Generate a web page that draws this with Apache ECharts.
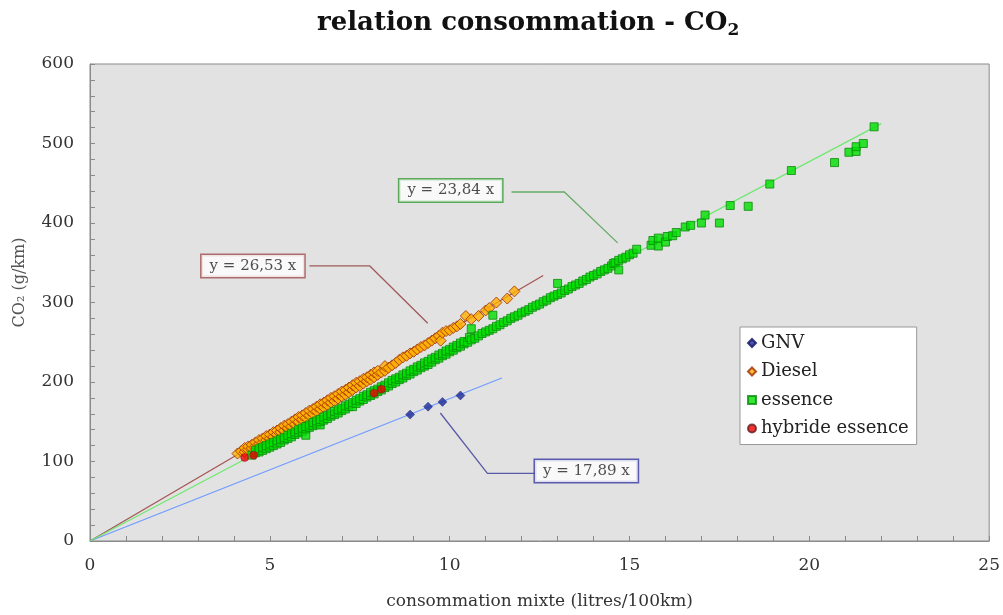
<!DOCTYPE html>
<html>
<head>
<meta charset="utf-8">
<script src="https://cdn.jsdelivr.net/npm/echarts@6/dist/echarts.min.js"></script>
<style>html,body{margin:0;padding:0;background:#fff;}#c{width:1003px;height:615px;}</style>
</head>
<body>
<div id="c"></div>
<script>
// ---- data ----
const xTicks = [0, 5, 10, 15, 20, 25];
const yTicks = [0, 100, 200, 300, 400, 500, 600];
const seriesNames = ['GNV', 'Diesel', 'essence', 'hybride essence'];

const gnv = [[8.9,159],[9.4,169],[9.8,175],[10.3,183]];

const hybride = [[4.3,105],[4.55,108],[7.9,186],[8.1,191]];

const diesel = [
[4.1,110],[4.2,113],[4.3,112],[4.3,117],[4.4,115],[4.4,119],[4.5,117],[4.5,121],[4.6,119],[4.6,124],
[4.7,122],[4.7,127],[4.8,124],[4.8,129],[4.9,127],[4.9,132],[5.0,129],[5.0,134],[5.1,131],[5.1,137],
[5.2,134],[5.2,139],[5.3,137],[5.3,142],[5.4,139],[5.4,145],[5.5,142],[5.5,147],[5.6,144],[5.6,150],
[5.7,147],[5.7,153],[5.8,150],[5.8,156],[5.9,153],[5.9,158],[6.0,155],[6.0,161],[6.1,158],[6.1,164],
[6.2,160],[6.2,166],[6.3,163],[6.3,169],[6.4,166],[6.4,172],[6.5,168],[6.5,174],[6.6,171],[6.6,177],
[6.7,174],[6.7,180],[6.8,176],[6.8,182],[6.9,179],[6.9,185],[7.0,182],[7.0,188],[7.1,184],[7.1,190],
[7.2,187],[7.2,193],[7.3,190],[7.3,196],[7.4,193],[7.4,199],[7.5,195],[7.5,201],[7.6,198],[7.6,204],
[7.7,201],[7.7,206],[7.8,203],[7.8,209],[7.9,206],[7.9,212],[8.0,209],[8.0,214],[8.1,212],[8.2,214],
[8.2,220],[8.3,218],[8.4,221],[8.5,224],[8.6,228],[8.7,231],[8.8,233],[8.9,236],[9.0,238],[9.1,241],
[9.2,244],[9.3,246],[9.4,249],[9.5,252],[9.6,255],[9.7,258],[9.75,252],[9.8,262],[9.9,264],[10.0,265],
[10.1,268],[10.2,270],[10.3,273],[10.45,283],[10.6,279],[10.8,283],[11.0,290],[11.1,293],[11.3,300],[11.6,305],
[11.8,314]
];

const essence = [
[4.5,108],[4.6,111],[4.6,114],[4.7,112],[4.7,116],[4.8,114],[4.8,118],[4.9,116],[4.9,120],[5.0,118],
[5.0,122],[5.1,120],[5.1,124],[5.2,122],[5.2,126],[5.3,124],[5.3,128],[5.4,127],[5.4,130],[5.5,129],
[5.5,133],[5.6,131],[5.6,135],[5.7,134],[5.7,137],[5.8,136],[5.8,140],[5.9,138],[5.9,142],[6.0,133],
[6.0,141],[6.0,144],[6.1,143],[6.1,146],[6.2,145],[6.2,149],[6.3,147],[6.3,151],[6.4,146],[6.4,150],
[6.4,153],[6.5,152],[6.5,156],[6.6,154],[6.6,158],[6.7,157],[6.7,160],[6.8,159],[6.8,163],[6.9,161],
[6.9,165],[7.0,164],[7.0,167],[7.1,166],[7.1,170],[7.2,169],[7.2,172],[7.3,169],[7.3,174],[7.4,173],
[7.4,177],[7.5,176],[7.5,179],[7.6,178],[7.6,182],[7.7,181],[7.7,184],[7.8,183],[7.8,187],[7.9,185],
[7.9,189],[8.0,188],[8.0,191],[8.1,190],[8.1,194],[8.2,193],[8.2,196],[8.3,195],[8.3,199],[8.4,198],
[8.4,202],[8.5,200],[8.5,204],[8.6,203],[8.6,206],[8.7,205],[8.7,209],[8.8,208],[8.8,211],[8.9,210],
[8.9,214],[9.0,213],[9.0,216],[9.1,215],[9.1,219],[9.2,218],[9.2,221],[9.3,220],[9.3,224],[9.4,222],
[9.4,226],[9.5,225],[9.5,229],[9.6,228],[9.6,231],[9.7,230],[9.7,234],[9.8,233],[9.8,236],[9.9,235],
[9.9,239],[10.0,238],[10.0,241],[10.1,240],[10.1,244],[10.2,243],[10.2,246],[10.3,245],[10.3,249],[10.4,248],
[10.4,251],[10.5,250],[10.55,256],[10.6,253],[10.6,267],[10.7,255],[10.8,258],[10.9,261],[11.0,263],[11.1,265],
[11.2,267],[11.2,284],[11.3,270],[11.4,272],[11.5,275],[11.6,277],[11.7,280],[11.8,282],[11.9,284],[12.0,287],
[12.1,289],[12.2,291],[12.3,294],[12.4,296],[12.5,298],[12.6,301],[12.7,303],[12.8,306],[12.9,308],[13.0,310],
[13.0,324],[13.1,312],[13.2,315],[13.3,317],[13.4,320],[13.5,322],[13.6,324],[13.7,327],[13.8,329],[13.9,332],
[14.0,334],[14.1,336],[14.2,339],[14.3,341],[14.4,343],[14.5,346],[14.55,349],[14.6,350],[14.7,341],[14.7,353],
[14.8,355],[14.9,357],[15.0,360],[15.1,362],[15.2,367],[15.6,372],[15.65,378],[15.8,371],[15.8,381],[16.0,376],
[16.05,383],[16.2,384],[16.3,388],[16.55,395],[16.7,397],[17.0,400],[17.1,410],[17.5,400],[17.8,422],[18.3,421],
[18.9,449],[19.5,466],[20.7,476],[21.1,489],[21.3,490],[21.3,496],[21.5,500],[21.8,521]
];

// regression lines (through origin) and their end points, as read
const dieselFit = [[0,0],[12.6,334]];
const essenceFit = [[0,0],[22.0,525]];
const gnvFit = [[0,0],[11.45,205]];

// annotation labels and leader lines (data coordinates)
const fitLabels = ['y = 26,53 x', 'y = 23,84 x', 'y = 17,89 x'];
const labelPos = [[4.53,346],[10.03,441],[13.8,88]];
const leaderDiesel = [[6.1,346],[7.78,346],[9.39,274]];
const leaderEssence = [[11.72,439],[13.19,439],[14.67,375]];
const leaderGnv = [[12.36,85],[11.05,85],[9.74,161]];

// ---- chart ----
const serif = "'DejaVu Serif', serif";
const chart = echarts.init(document.getElementById('c'), null, {renderer: 'canvas'});

function fitLine(data, color) {
  return {type: 'line', data: data, showSymbol: false, symbol: 'none', silent: true,
    lineStyle: {color: color, width: 1.2}, z: 1, animation: false};
}
function leader(data, color) {
  return {type: 'line', data: data, showSymbol: false, symbol: 'none', silent: true,
    lineStyle: {color: color, width: 1.3}, z: 1, animation: false};
}
function labelBox(pos, text, border) {
  return {type: 'scatter', data: [pos], symbolSize: 0, silent: true, z: 5, animation: false,
    label: {show: true, position: 'inside', formatter: text, fontFamily: serif, fontSize: 15,
      color: '#222', backgroundColor: '#fff', borderColor: border, borderWidth: 1.5,
      padding: [4, 8, 3, 8]}};
}

const option = {
  backgroundColor: '#fff',
  animation: false,
  title: {
    text: 'relation consommation - CO{s|2}',
    left: 312, top: 3,
    textStyle: {fontFamily: serif, fontWeight: 'bold', fontSize: 26, color: '#111',
      rich: {s: {fontFamily: serif, fontWeight: 'bold', fontSize: 17, color: '#111', padding: [14, 0, 0, 0]}}}
  },
  legend: {
    orient: 'vertical', left: 740, top: 327,
    data: seriesNames,
    backgroundColor: '#fff', borderColor: '#999', borderWidth: 1,
    padding: [7, 8, 7, 7], itemGap: 10.5, itemWidth: 8, itemHeight: 8,
    textStyle: {fontFamily: serif, fontSize: 18, color: '#222'}
  },
  grid: {left: 90, right: 13, top: 64, bottom: 74, show: true,
    backgroundColor: '#e2e2e2', borderColor: '#8a8a8a', borderWidth: 1},
  xAxis: {
    type: 'value', min: xTicks[0], max: xTicks[xTicks.length - 1], interval: 5,
    name: 'consommation mixte (litres/100km)', nameLocation: 'middle', nameGap: 52,
    nameTextStyle: {fontFamily: serif, fontSize: 17, color: '#333'},
    axisLine: {lineStyle: {color: '#8a8a8a'}},
    axisTick: {inside: true, length: 5, lineStyle: {color: '#8a8a8a'}},
    minorTick: {show: true, splitNumber: 5, length: 5, lineStyle: {color: '#8a8a8a'}},
    splitLine: {show: false},
    axisLabel: {margin: 16, fontFamily: serif, fontSize: 17, color: '#333'}
  },
  yAxis: {
    type: 'value', min: yTicks[0], max: yTicks[yTicks.length - 1], interval: 100,
    name: 'CO₂ (g/km)', nameLocation: 'middle', nameGap: 62,
    nameTextStyle: {fontFamily: serif, fontSize: 16, color: '#555', padding: [0, 0, 0, 40]},
    axisLine: {show: true, lineStyle: {color: '#8a8a8a'}},
    axisTick: {show: true, inside: true, length: 5, lineStyle: {color: '#8a8a8a'}},
    minorTick: {show: true, splitNumber: 5, length: 5, lineStyle: {color: '#8a8a8a'}},
    splitLine: {show: false},
    axisLabel: {margin: 16, fontFamily: serif, fontSize: 17, color: '#333'}
  },
  series: [
    fitLine(gnvFit, '#6f9bff'),
    fitLine(dieselFit, '#a45252'),
    fitLine(essenceFit, '#6fe86f'),
    leader(leaderDiesel, '#a05a5a'),
    leader(leaderEssence, '#66aa66'),
    leader(leaderGnv, '#5a5aa6'),
    {name: seriesNames[0], type: 'scatter', data: gnv, symbol: 'diamond', symbolSize: 9,
      itemStyle: {color: '#1a2a9a', borderColor: '#101060', borderWidth: 0.5}, z: 3},
    {name: seriesNames[1], type: 'scatter', data: diesel, symbol: 'diamond', symbolSize: 11,
      itemStyle: {color: '#ffb000', borderColor: '#a02a00', borderWidth: 1}, z: 3},
    {name: seriesNames[2], type: 'scatter', data: essence, symbol: 'rect', symbolSize: 8,
      itemStyle: {color: '#00e000', borderColor: '#0a8a0a', borderWidth: 1}, z: 3},
    {name: seriesNames[3], type: 'scatter', data: hybride, symbol: 'circle', symbolSize: 8,
      itemStyle: {color: '#ee0000', borderColor: '#602020', borderWidth: 0.5}, z: 4},
    labelBox(labelPos[0], fitLabels[0], '#a05050'),
    labelBox(labelPos[1], fitLabels[1], '#3a9a3a'),
    labelBox(labelPos[2], fitLabels[2], '#3a3aa0')
  ]
};
chart.setOption(option);
</script>
</body>
</html>
